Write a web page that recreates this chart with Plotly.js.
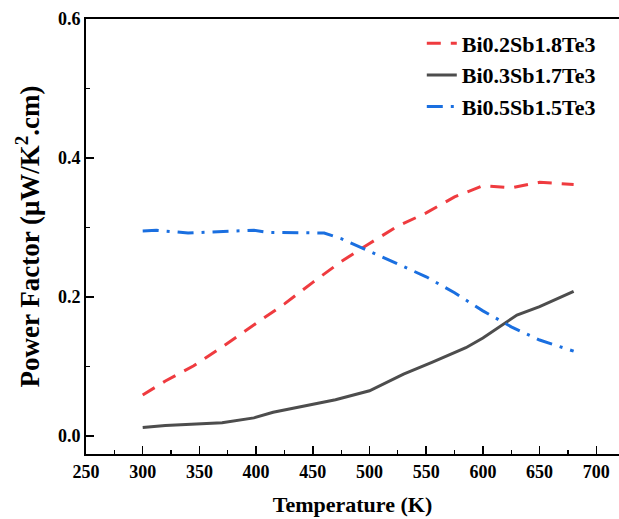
<!DOCTYPE html>
<html>
<head>
<meta charset="utf-8">
<script src="https://cdn.plot.ly/plotly-3.0.1.min.js"></script>
<style>html,body{margin:0;padding:0;background:#fff;}#chart{width:619px;height:519px;}</style>
</head>
<body>
<div id="chart"></div>
<script>
// Temperature (K) and power factor (µW/K².cm) for each composition
const namesSeries = ["Bi0.2Sb1.8Te3", "Bi0.3Sb1.7Te3", "Bi0.5Sb1.5Te3"];

const tempA = [300, 320, 345, 370, 400, 425, 450, 475, 500, 525, 550, 575, 600, 625, 650, 680];
const pfA   = [0.059, 0.079, 0.101, 0.128, 0.162, 0.190, 0.221, 0.251, 0.277, 0.302, 0.321, 0.344, 0.360, 0.357, 0.365, 0.362];

const tempB = [300, 320, 370, 398, 415, 450, 470, 500, 530, 555, 585, 600, 630, 650, 680];
const pfB   = [0.012, 0.015, 0.019, 0.026, 0.034, 0.045, 0.052, 0.065, 0.089, 0.106, 0.127, 0.141, 0.174, 0.186, 0.208];

const tempC = [300, 312, 340, 370, 398, 410, 460, 475, 500, 525, 550, 575, 600, 625, 650, 680];
const pfC   = [0.295, 0.296, 0.292, 0.294, 0.296, 0.293, 0.292, 0.284, 0.266, 0.248, 0.229, 0.206, 0.180, 0.157, 0.138, 0.122];

const xTicks = [250, 300, 350, 400, 450, 500, 550, 600, 650, 700];
const yTicks = [0.0, 0.2, 0.4, 0.6];
const yTickText = ["0.0", "0.2", "0.4", "0.6"];

const serif = "Liberation Serif, Times New Roman, serif";

const traces = [
  {x: tempA, y: pfA, name: namesSeries[0], mode: "lines",
   line: {color: "#EF3B3F", width: 3, dash: "14px,10px"}},
  {x: tempB, y: pfB, name: namesSeries[1], mode: "lines",
   line: {color: "#4D4D4D", width: 3}},
  {x: tempC, y: pfC, name: namesSeries[2], mode: "lines",
   line: {color: "#1A6FE0", width: 3, dash: "16px,8px,3px,8px"}}
];

const layout = {
  width: 619, height: 519,
  margin: {l: 86, r: 0, t: 19, b: 65},
  paper_bgcolor: "#fff", plot_bgcolor: "#fff",
  showlegend: true,
  legend: {x: 0.63, y: 0.992, xanchor: "left", yanchor: "top",
           font: {family: serif, size: 22, color: "#000", weight: "bold"},
           bgcolor: "rgba(0,0,0,0)", traceorder: "normal"},
  xaxis: {
    range: [250, 720], tickvals: xTicks, ticktext: xTicks.map(String),
    ticks: "inside", ticklen: 8, tickwidth: 1.5, tickcolor: "#000",
    minor: {dtick: 25, ticks: "inside", ticklen: 4, tickwidth: 1.2, tickcolor: "#000"},
    showline: true, linecolor: "#000", linewidth: 2, mirror: true,
    showgrid: false, zeroline: false,
    tickfont: {family: serif, size: 18, color: "#000", weight: "bold"},
    title: {text: "Temperature (K)", standoff: 16,
            font: {family: serif, size: 22, color: "#000", weight: "bold"}}
  },
  yaxis: {
    range: [-0.026, 0.6], tickvals: yTicks, ticktext: yTickText,
    ticks: "inside", ticklen: 8, tickwidth: 1.5, tickcolor: "#000",
    minor: {tickvals: [0.1, 0.3, 0.5], ticks: "inside", ticklen: 4, tickwidth: 1.2, tickcolor: "#000"},
    showline: true, linecolor: "#000", linewidth: 2, mirror: false,
    showgrid: false, zeroline: false,
    tickfont: {family: serif, size: 18, color: "#000", weight: "bold"},
    title: {text: "Power Factor (μW/K<sup>2</sup>.cm)", standoff: 10,
            font: {family: serif, size: 27, color: "#000", weight: "bold"}}
  }
};

Plotly.newPlot("chart", traces, layout, {staticPlot: true, displayModeBar: false});
</script>
</body>
</html>
